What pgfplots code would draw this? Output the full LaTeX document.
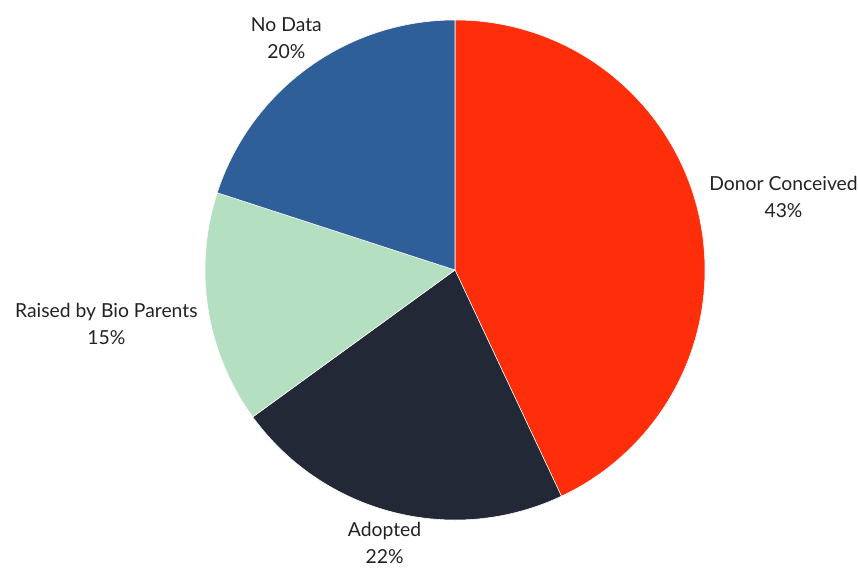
\documentclass[border=0pt]{standalone}
\usepackage{pgfplots}
\pgfplotsset{compat=1.18}
\usepackage{fontspec}
\setmainfont{Lato}
\definecolor{cDonor}{HTML}{FF2E0A}
\definecolor{cAdopt}{HTML}{232837}
\definecolor{cBio}{HTML}{B5DFC1}
\definecolor{cNone}{HTML}{2F5F98}
\definecolor{cText}{HTML}{222222}
% #1 cumulative start (percent), #2 share (percent), #3 colour, #4 label
\newcommand\slice[4]{%
\pgfplotsextra{%
 \pgfmathsetmacro\sa{90-3.6*#1}%
 \pgfmathsetmacro\ea{90-3.6*(#1+#2)}%
 \pgfmathsetmacro\ma{(\sa+\ea)/2}%
 \pgfmathsetmacro\an{\ma+180}%
 \fill[#3, draw=white, line width=0.4pt] (axis cs:0,0) -- (axis cs:{cos(\sa)},{sin(\sa)}) arc[start angle=\sa, end angle=\ea, radius=187.5pt] -- cycle;
 \node[overlay, anchor=\an, align=center, text=cText, font=\fontsize{14.5}{20.3}\selectfont, inner sep=3pt] at (axis cs:{1.025*cos(\ma)},{1.025*sin(\ma)}) {#4\\#2\%};
}}
\begin{document}
\begin{tikzpicture}
\begin{axis}[
  hide axis, scale only axis, clip=false,
  width=643.5pt, height=432pt,
  xmin=-1.82, xmax=1.612, ymin=-1.224, ymax=1.08,
]
\path (rel axis cs:0,0) rectangle (rel axis cs:1,1);
\slice{0}{43}{cDonor}{Donor Conceived}
\slice{43}{22}{cAdopt}{Adopted}
\slice{65}{15}{cBio}{Raised by Bio Parents}
\slice{80}{20}{cNone}{No Data}
\end{axis}
\end{tikzpicture}
\end{document}
